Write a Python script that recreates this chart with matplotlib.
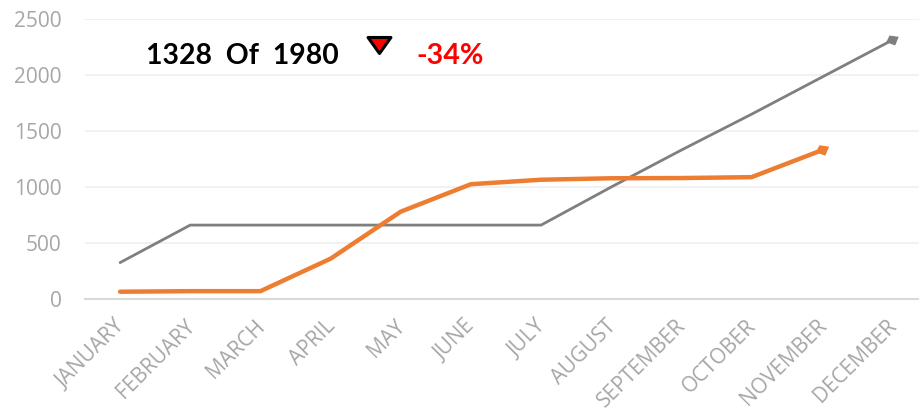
import matplotlib
matplotlib.use('Agg')
import matplotlib.pyplot as plt
from matplotlib.markers import MarkerStyle
from matplotlib.path import Path
from matplotlib.transforms import ScaledTranslation

months = ['JANUARY', 'FEBRUARY', 'MARCH', 'APRIL', 'MAY', 'JUNE', 'JULY',
          'AUGUST', 'SEPTEMBER', 'OCTOBER', 'NOVEMBER', 'DECEMBER']
target = [325, 660, 660, 660, 660, 660, 660, 1000, 1330, 1650, 1980, 2310]
actual = [65, 70, 70, 360, 780, 1025, 1065, 1078, 1080, 1088, 1328]
y_ticks = [0, 500, 1000, 1500, 2000, 2500]

W, H = 920, 412
fig = plt.figure(figsize=(W / 100, H / 100), dpi=100)
ax = fig.add_axes([85 / W, 1 - 299 / H, (W - 85) / W, (299 - 19) / H])

# skewed end marker, same shape on both lines
end_marker = [(-3, 5), (6.3, 3.7), (2.7, -5), (-6.3, -1.7)]

ax.plot(range(len(target)), target, color='#7f7f7f', lw=2, solid_capstyle='round', zorder=3)
ax.plot(range(len(actual)), actual, color='#ed7d31', lw=3.2, solid_capstyle='round', zorder=4)
ax.plot(len(target) - 1, target[-1], marker=end_marker, ms=9, mew=0, color='#7f7f7f', zorder=3)
ax.plot(len(actual) - 1, actual[-1], marker=end_marker, ms=9.5, mew=0, color='#ed7d31', zorder=4)

ax.set_xlim(-0.5, 11.4)
ax.set_ylim(0, 2500)
ax.set_yticks(y_ticks)
ax.set_xticks(range(len(months)))
ax.set_xticklabels(months, rotation=45, ha='right', rotation_mode='anchor',
                   fontsize=15, color='#a6a6a6', family='Open Sans')
for lab in ax.get_yticklabels():
    lab.set_fontsize(15)
    lab.set_color('#a6a6a6')
    lab.set_family('Open Sans')
ax.tick_params(length=0)
ax.tick_params(axis='y', pad=17)
ax.tick_params(axis='x', pad=12)
# has to come after tick_params, pad resets the label transform
shift = ScaledTranslation(-6 / 100, 0, fig.dpi_scale_trans)
for lab in ax.get_xticklabels():
    lab.set_transform(lab.get_transform() + shift)
ax.grid(axis='y', color='#f0f0f0', lw=1.3)
ax.set_axisbelow(True)
for s in ['top', 'right', 'left']:
    ax.spines[s].set_visible(False)
ax.spines['bottom'].set_color('#d9d9d9')
ax.spines['bottom'].set_linewidth(1.5)

# kpi text on top of the plot
fig.text(146 / W, 1 - 56 / H, '1328  Of  1980', fontsize=20.4, fontweight='bold',
         family='Lato', color='black', va='center')
fig.text(416 / W, 1 - 56 / H, '-34%', fontsize=20.6, fontweight='bold',
         family='Lato', color='#ff0000', va='center')
tri = Path([(-1, 0.7), (1, 0.7), (0, -0.7), (-1, 0.7)], closed=True)
ax.plot([379.5 / W], [1 - 45 / H], transform=fig.transFigure,
        marker=MarkerStyle(tri, joinstyle='miter'), ms=16.5,
        mfc='#ff0000', mec='black', mew=2.2, clip_on=False)

fig.savefig('out.png', dpi=100)
